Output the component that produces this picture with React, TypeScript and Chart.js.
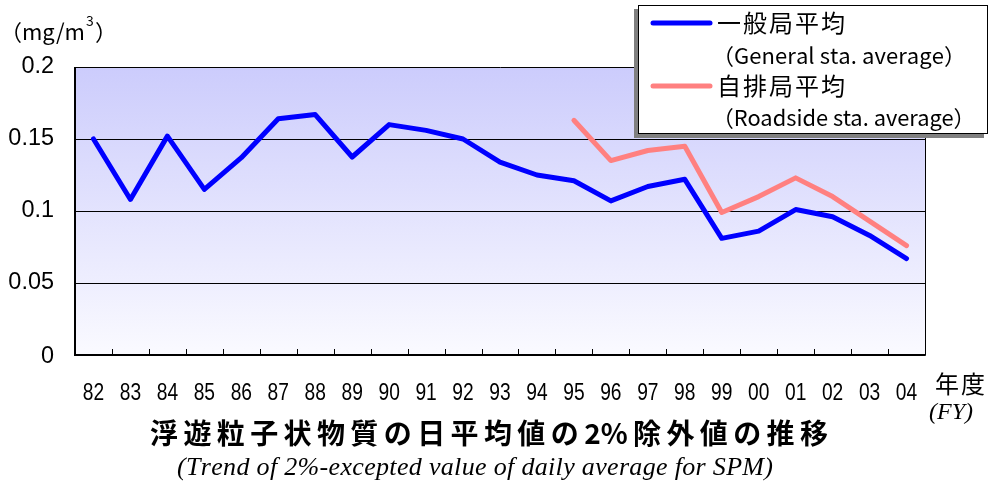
import React, { useEffect, useRef } from "react";
import { Chart, registerables } from "chart.js";

Chart.register(...registerables);

const years = ["82","83","84","85","86","87","88","89","90","91","92","93","94","95","96","97","98","99","00","01","02","03","04"];
const generalAvg = [0.150,0.108,0.152,0.115,0.137,0.164,0.167,0.1375,0.160,0.156,0.150,0.134,0.125,0.121,0.107,0.117,0.122,0.081,0.086,0.101,0.096,0.083,0.067];
const roadsideAvg = [null,null,null,null,null,null,null,null,null,null,null,null,null,0.163,0.135,0.142,0.145,0.099,0.110,0.123,0.110,0.093,0.076];
const yTicks = [0, 0.05, 0.1, 0.15, 0.2];
const yTickLabels = ["0", "0.05", "0.1", "0.15", "0.2"];

const CJK = '"Noto Sans CJK JP", sans-serif';
const SANS = '"Liberation Sans", Arial, sans-serif';
const SERIF = '"Liberation Serif", "Times New Roman", serif';

const isAscii = (c: string) => c.charCodeAt(0) < 128;

function drawFit(ctx: CanvasRenderingContext2D, text: string, x: number, y: number, width: number, tightAscii = false) {
  const chars = Array.from(text);
  const widths = chars.map((c) => ctx.measureText(c).width);
  const natural = widths.reduce((a, b) => a + b, 0);
  ctx.textAlign = "left";
  if (natural >= width || chars.length < 2) {
    ctx.save();
    ctx.translate(x, y);
    ctx.scale(width / natural, 1);
    ctx.fillText(text, 0, 0);
    ctx.restore();
    return;
  }
  const gapW = chars.slice(0, -1).map((c, i) =>
    tightAscii && isAscii(c) && isAscii(chars[i + 1]) ? 0 : 1
  );
  const totalW = gapW.reduce((a, b) => a + b, 0);
  const extra = (width - natural) / totalW;
  let cx = x;
  chars.forEach((c, i) => {
    ctx.fillText(c, cx, y);
    cx += widths[i] + (i < gapW.length ? gapW[i] * extra : 0);
  });
}

const decorPlugin = {
  id: "decor",
  beforeDraw(chart: any) {
    const { ctx, chartArea } = chart;
    const { left, right, top, bottom } = chartArea;
    ctx.save();
    ctx.fillStyle = "#ffffff";
    ctx.fillRect(0, 0, chart.width, chart.height);
    const g = ctx.createLinearGradient(0, top, 0, bottom);
    g.addColorStop(0, "#ccccfc");
    g.addColorStop(1, "#fafaff");
    ctx.fillStyle = g;
    ctx.fillRect(left, top, right - left, bottom - top);
    ctx.restore();
  },
  beforeDatasetsDraw(chart: any) {
    const { ctx, chartArea, scales } = chart;
    const { left, right, top, bottom } = chartArea;
    const y = scales.y;
    const x = scales.x;
    ctx.save();
    ctx.strokeStyle = "#000";
    ctx.lineWidth = 1;
    yTicks.forEach((v) => {
      if (v === 0 || v === 0.2) return;
      const py = Math.round(y.getPixelForValue(v)) + 0.5;
      ctx.beginPath();
      ctx.moveTo(left, py);
      ctx.lineTo(right, py);
      ctx.stroke();
    });
    ctx.beginPath();
    ctx.rect(Math.round(left) + 0.5, Math.round(top) + 0.5, Math.round(right - left), Math.round(bottom - top));
    ctx.stroke();
    ctx.lineWidth = 2;
    ctx.beginPath();
    ctx.moveTo(left, top);
    ctx.lineTo(left, bottom);
    ctx.lineTo(right, bottom);
    ctx.stroke();
    ctx.lineWidth = 1;
    for (let i = 0; i < years.length - 1; i++) {
      const px = Math.round((x.getPixelForValue(i) + x.getPixelForValue(i + 1)) / 2) + 0.5;
      ctx.beginPath();
      ctx.moveTo(px, bottom - 6);
      ctx.lineTo(px, bottom);
      ctx.stroke();
    }
    ctx.restore();
  },
  afterDraw(chart: any) {
    const { ctx, chartArea, scales } = chart;
    const { bottom } = chartArea;
    const y = scales.y;
    const x = scales.x;
    ctx.save();
    ctx.fillStyle = "#000";
    ctx.textBaseline = "middle";
    // y tick labels
    ctx.font = `23px ${SANS}`;
    ctx.textAlign = "right";
    yTicks.forEach((v, i) => {
      const lab = yTickLabels[i];
      ctx.save();
      ctx.translate(54, y.getPixelForValue(v) + (v === 0 ? 2 : 0));
      ctx.scale(1.02, 1);
      ctx.fillText(lab, 0, 0);
      ctx.restore();
    });
    // x tick labels
    ctx.textAlign = "center";
    ctx.font = `24px ${SANS}`;
    years.forEach((lab, i) => {
      ctx.save();
      const px = x.getPixelForValue(i);
      ctx.translate(px, bottom + 38);
      ctx.scale(0.8, 1);
      ctx.fillText(lab, 0, 0);
      ctx.restore();
    });
    // unit label
    ctx.textAlign = "left";
    ctx.font = `22px ${CJK}`;
    ctx.fillText("（mg/m", 0, 32);
    const w1 = ctx.measureText("（mg/m").width;
    ctx.font = `14px ${CJK}`;
    ctx.fillText("3", 0 + w1 + 1, 21);
    ctx.font = `22px ${CJK}`;
    ctx.fillText("）", 0 + w1 + 10, 32);
    // FY
    ctx.font = `24px ${CJK}`;
    drawFit(ctx, "年度", 935, 384, 50);
    ctx.font = `italic 24px ${SERIF}`;
    ctx.fillText("(FY)", 929, 413);
    // title
    ctx.font = `bold 28px ${CJK}`;
    drawFit(ctx, "浮遊粒子状物質の日平均値の2%除外値の推移", 150, 433, 678, true);
    // subtitle
    ctx.font = `italic 26px ${SERIF}`;
    drawFit(ctx, "(Trend of 2%-excepted value of daily average for SPM)", 177, 468, 596);
    // legend
    ctx.fillStyle = "#808080";
    ctx.fillRect(634, 9, 350, 129);
    ctx.fillStyle = "#ffffff";
    ctx.fillRect(638, 5, 350, 129);
    ctx.strokeStyle = "#000";
    ctx.lineWidth = 1;
    ctx.strokeRect(638.5, 5.5, 349, 128);
    ctx.lineCap = "round";
    ctx.lineWidth = 5;
    ctx.strokeStyle = "#0000ff";
    ctx.beginPath();
    ctx.moveTo(653, 23);
    ctx.lineTo(710, 23);
    ctx.stroke();
    ctx.strokeStyle = "#ff8080";
    ctx.beginPath();
    ctx.moveTo(653, 86);
    ctx.lineTo(710, 86);
    ctx.stroke();
    ctx.fillStyle = "#000";
    ctx.font = `24px ${CJK}`;
    drawFit(ctx, "一般局平均", 717, 23, 128);
    drawFit(ctx, "自排局平均", 717, 86, 128);
    ctx.font = `22px ${CJK}`;
    drawFit(ctx, "（General sta. average）", 712, 56, 254);
    drawFit(ctx, "（Roadside sta. average）", 712, 118, 266);
    ctx.restore();
  },
};

export default function App() {
  const ref = useRef<HTMLCanvasElement>(null);
  useEffect(() => {
    document.body.style.margin = "0";
    const chart = new Chart(ref.current as HTMLCanvasElement, {
      type: "line",
      data: {
        labels: years,
        datasets: [
          {
            label: "一般局平均",
            data: generalAvg,
            borderColor: "#0000ff",
            borderWidth: 5,
            pointRadius: 0,
            borderJoinStyle: "round",
            borderCapStyle: "round",
            tension: 0,
          },
          {
            label: "自排局平均",
            data: roadsideAvg as any,
            borderColor: "#ff8080",
            borderWidth: 5,
            pointRadius: 0,
            borderJoinStyle: "round",
            borderCapStyle: "round",
            tension: 0,
          },
        ],
      },
      options: {
        animation: false,
        responsive: false,
        devicePixelRatio: 1,
        layout: { padding: { left: 75, right: 65, top: 67, bottom: 135 } },
        plugins: { legend: { display: false }, tooltip: { enabled: false } },
        scales: {
          x: {
            offset: true,
            grid: { display: false, drawTicks: false },
            border: { display: false },
            ticks: { display: false },
          },
          y: {
            min: 0,
            max: 0.2,
            grid: { display: false, drawTicks: false },
            border: { display: false },
            ticks: { display: false },
          },
        },
      },
      plugins: [decorPlugin],
    });
    return () => chart.destroy();
  }, []);
  return (
    <div style={{ position: "absolute", left: 0, top: 0, width: 990, height: 490 }}>
      <canvas ref={ref} width={990} height={490} style={{ width: 990, height: 490 }} />
    </div>
  );
}
